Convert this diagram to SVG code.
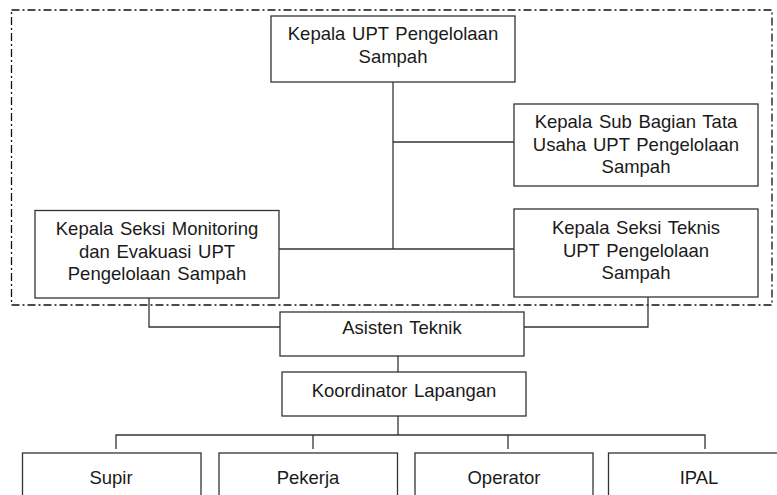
<svg xmlns="http://www.w3.org/2000/svg" width="777" height="495" viewBox="0 0 777 495">
  <style>
    .box { fill: #ffffff; stroke: #333333; stroke-width: 1.3; }
    .lbl { font-family: "Liberation Sans", Arial, sans-serif; font-size: 18.5px; word-spacing: 1.5px; fill: #1a1a1a; text-anchor: middle; }
    .conn { fill: none; stroke: #333333; stroke-width: 1.3; }
    .frame { fill: none; stroke: #111111; stroke-width: 1.3; stroke-dasharray: 8 3 2 3; }
  </style>
  <rect width="777" height="495" fill="#ffffff"/>
  <rect id="frame" class="frame" x="11.5" y="10" width="760.5" height="295"/>
  <g id="connectors">
    <polyline class="conn" points="393,82 393,249"/>
    <polyline class="conn" points="393,142 514,142"/>
    <polyline class="conn" points="279,249 514,249"/>
    <polyline class="conn" points="149,298 149,327 280,327"/>
    <polyline class="conn" points="648,297 648,327 524,327"/>
    <polyline class="conn" points="398,356 398,372"/>
    <polyline class="conn" points="398,416 398,435"/>
    <polyline class="conn" points="116,449 116,435 705,435 705,449"/>
    <polyline class="conn" points="313,435 313,449"/>
    <polyline class="conn" points="508,435 508,449"/>
  </g>
  <g id="kepala-upt">
    <rect class="box" x="271" y="16" width="244" height="66"/>
    <text class="lbl" x="393" y="40">Kepala UPT Pengelolaan</text>
    <text class="lbl" x="393" y="62.5">Sampah</text>
  </g>
  <g id="subbag-tu">
    <rect class="box" x="514" y="104" width="244" height="82"/>
    <text class="lbl" x="636" y="128">Kepala Sub Bagian Tata</text>
    <text class="lbl" x="636" y="150.5">Usaha UPT Pengelolaan</text>
    <text class="lbl" x="636" y="173">Sampah</text>
  </g>
  <g id="seksi-monitoring">
    <rect class="box" x="35" y="210.5" width="244" height="87.5"/>
    <text class="lbl" x="157" y="235">Kepala Seksi Monitoring</text>
    <text class="lbl" x="157" y="257.5">dan Evakuasi UPT</text>
    <text class="lbl" x="157" y="280">Pengelolaan Sampah</text>
  </g>
  <g id="seksi-teknis">
    <rect class="box" x="514" y="209" width="244" height="88"/>
    <text class="lbl" x="636" y="234">Kepala Seksi Teknis</text>
    <text class="lbl" x="636" y="256.5">UPT Pengelolaan</text>
    <text class="lbl" x="636" y="279">Sampah</text>
  </g>
  <g id="asisten-teknik">
    <rect class="box" x="280" y="312" width="244" height="44"/>
    <text class="lbl" x="402" y="334">Asisten Teknik</text>
  </g>
  <g id="koordinator-lapangan">
    <rect class="box" x="282" y="372" width="244" height="44"/>
    <text class="lbl" x="404" y="397">Koordinator Lapangan</text>
  </g>
  <g id="supir">
    <rect class="box" x="22.5" y="453" width="178.5" height="60"/>
    <text class="lbl" x="111" y="484">Supir</text>
  </g>
  <g id="pekerja">
    <rect class="box" x="219" y="453" width="178.5" height="60"/>
    <text class="lbl" x="308" y="484">Pekerja</text>
  </g>
  <g id="operator">
    <rect class="box" x="415" y="453" width="178" height="60"/>
    <text class="lbl" x="504" y="484">Operator</text>
  </g>
  <g id="ipal">
    <rect class="box" x="608.5" y="453" width="181" height="60"/>
    <text class="lbl" x="699" y="484">IPAL</text>
  </g>
</svg>
